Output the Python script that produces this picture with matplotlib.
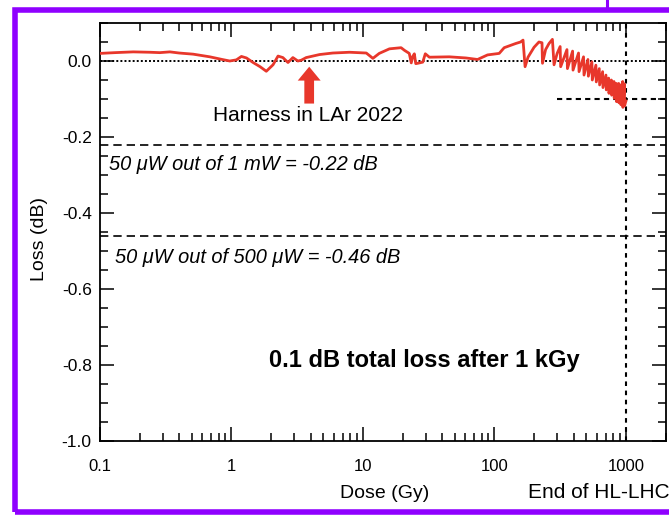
import matplotlib
matplotlib.use("Agg")
import matplotlib.pyplot as plt
from matplotlib.patches import Rectangle
from matplotlib.lines import Line2D
from matplotlib.ticker import FixedLocator, NullFormatter, MultipleLocator

plt.rcParams['font.family'] = ['Liberation Sans', 'DejaVu Sans']
plt.rcParams['axes.unicode_minus'] = False

# Measured optical loss of the harness vs accumulated dose
dose = [0.1, 0.13, 0.179, 0.24, 0.285, 0.34, 0.40, 0.511, 0.684, 0.85,
        0.97, 1.09, 1.19, 1.30, 1.46, 1.65, 1.84, 2.07, 2.26, 2.46,
        2.69, 2.93, 3.20, 3.39, 3.70, 4.68, 5.90, 7.90, 10.6, 11.9,
        13.3, 15.9, 19.5, 20.7, 22.5, 23.3, 23.9, 24.6, 25.2, 26.1,
        28.5, 29.8, 32.0, 45.3, 60.7, 74.4, 88.6, 108.7, 118.6, 145,
        158, 165, 171, 180, 200, 218, 230, 232, 245, 260,
        276, 284, 300, 316, 319, 356, 359, 393, 396, 436,
        440, 476, 480, 514, 518, 551, 555, 591, 595, 627,
        631, 665, 669, 705, 709, 739, 743, 775, 779, 811,
        815, 845, 849, 881, 885, 912, 916, 945, 949, 973,
        977, 1000]
loss = [0.020, 0.022, 0.024, 0.023, 0.022, 0.024, 0.021, 0.018, 0.011, 0.004,
        0.000, 0.003, 0.012, 0.008, -0.004, -0.015, -0.027, -0.010, 0.013, 0.009,
        -0.004, 0.009, 0.000, 0.002, 0.009, 0.017, 0.021, 0.023, 0.021, 0.007,
        0.020, 0.032, 0.035, 0.028, 0.020, -0.005, 0.012, 0.019, -0.007, -0.006,
        -0.003, 0.019, 0.010, 0.011, 0.008, 0.004, 0.016, 0.020, 0.035, 0.046,
        0.050, 0.055, -0.015, 0.010, 0.036, 0.050, 0.048, -0.006, 0.030, 0.046,
        0.057, -0.010, 0.020, 0.038, -0.015, 0.030, -0.020, 0.026, -0.024, 0.021,
        -0.028, 0.011, -0.037, 0.004, -0.040, -0.002, -0.050, -0.011, -0.055, -0.020,
        -0.063, -0.028, -0.070, -0.037, -0.076, -0.045, -0.085, -0.050, -0.090, -0.054,
        -0.098, -0.059, -0.107, -0.059, -0.110, -0.063, -0.115, -0.054, -0.122, -0.060,
        -0.118, -0.105]

# Reference levels (dB)
budget_levels = [-0.22, -0.46]
budget_labels = ["50 \u03bcW out of 1 mW = -0.22 dB",
                 "50 \u03bcW out of 500 \u03bcW = -0.46 dB"]
end_dose = 1000
total_loss = -0.1

xticks = [0.1, 1, 10, 100, 1000]
xticklabels = ["0.1", "1", "10", "100", "1000"]
yticks = [0.0, -0.2, -0.4, -0.6, -0.8, -1.0]
yticklabels = ["0.0", "-0.2", "-0.4", "-0.6", "-0.8", "-1.0"]

RED = "#e8372b"
W, H = 669, 517

fig = plt.figure(figsize=(W / 100, H / 100), dpi=100)
ax = fig.add_axes([100 / W, 76 / H, 565.5 / W, 418 / H])

ax.set_xscale("log")
ax.set_xlim(0.1, 2000)
ax.set_ylim(-1.0, 0.1)

# reference lines
ax.axhline(0.0, color="black", lw=1.4, ls=(0, (1, 1.1)), zorder=1)
for lv in budget_levels:
    ax.axhline(lv, color="black", lw=1.2, ls=(0, (5, 3)), zorder=1)
ax.plot([300, 2000], [total_loss, total_loss], color="black", lw=1.5,
        ls=(0, (2.5, 2)), zorder=1)
ax.axvline(end_dose, color="black", lw=1.5, ls=(0, (2.2, 2.2)), zorder=1)

ax.plot(dose, loss, color=RED, lw=2.0, zorder=3)

# annotations
ax.annotate("", xy=(3.9, -0.015), xytext=(3.9, -0.112),
            arrowprops=dict(arrowstyle="simple,head_width=1.65,head_length=1.0,tail_width=0.7",
                            color=RED, mutation_scale=10, shrinkA=0, shrinkB=0, lw=0))
ax.text(0.72, -0.158, "Harness in LAr 2022", fontsize=15, ha="left", va="baseline")
ax.text(0.118, -0.288, budget_labels[0], fontsize=14.4, style="italic",
        ha="left", va="baseline")
ax.text(0.129, -0.532, budget_labels[1], fontsize=14.4, style="italic",
        ha="left", va="baseline")
ax.text(1.93, -0.805, "0.1 dB total loss after 1 kGy", fontsize=17,
        fontweight="bold", ha="left", va="baseline")

# ticks
ax.xaxis.set_major_locator(FixedLocator(xticks))
ax.set_xticklabels(xticklabels)
minor = [m * 10.0 ** e for e in range(-1, 4) for m in range(2, 10)]
ax.xaxis.set_minor_locator(FixedLocator(minor))
ax.xaxis.set_minor_formatter(NullFormatter())
ax.yaxis.set_major_locator(FixedLocator(yticks))
ax.set_yticklabels(yticklabels)
ax.yaxis.set_minor_locator(MultipleLocator(0.05))
ax.tick_params(which="both", direction="in", top=True, right=True,
               labelsize=12, width=1.1)
ax.tick_params(axis="y", which="both", labelsize=12.5)
ax.tick_params(which="major", length=10)
ax.tick_params(which="minor", length=5.5)
ax.tick_params(axis="x", which="major", pad=13)
ax.tick_params(axis="y", which="major", pad=6)
for s in ax.spines.values():
    s.set_linewidth(1.3)

fig.text(39 / W, 1 - 239 / H, "Loss (dB)", rotation=90, fontsize=14,
         ha="center", va="center")
fig.text(385 / W, 1 - 493 / H, "Dose (Gy)", fontsize=14, ha="center", va="center")
fig.text(528 / W, 1 - 493 / H, "End of HL-LHC", fontsize=15, ha="left", va="center")

# frame around the figure
PURPLE = "#8f00ff"
fig.patches.append(Rectangle((14.5 / W, 5 / H), 1.2, 502.5 / H, transform=fig.transFigure,
                             fill=False, edgecolor=PURPLE, lw=4, clip_on=False))
fig.lines.append(Line2D([607 / W, 607 / W], [1.0, 1 - 9.5 / H], transform=fig.transFigure,
                        color=PURPLE, lw=2.2))

fig.savefig("out.png", dpi=100)
